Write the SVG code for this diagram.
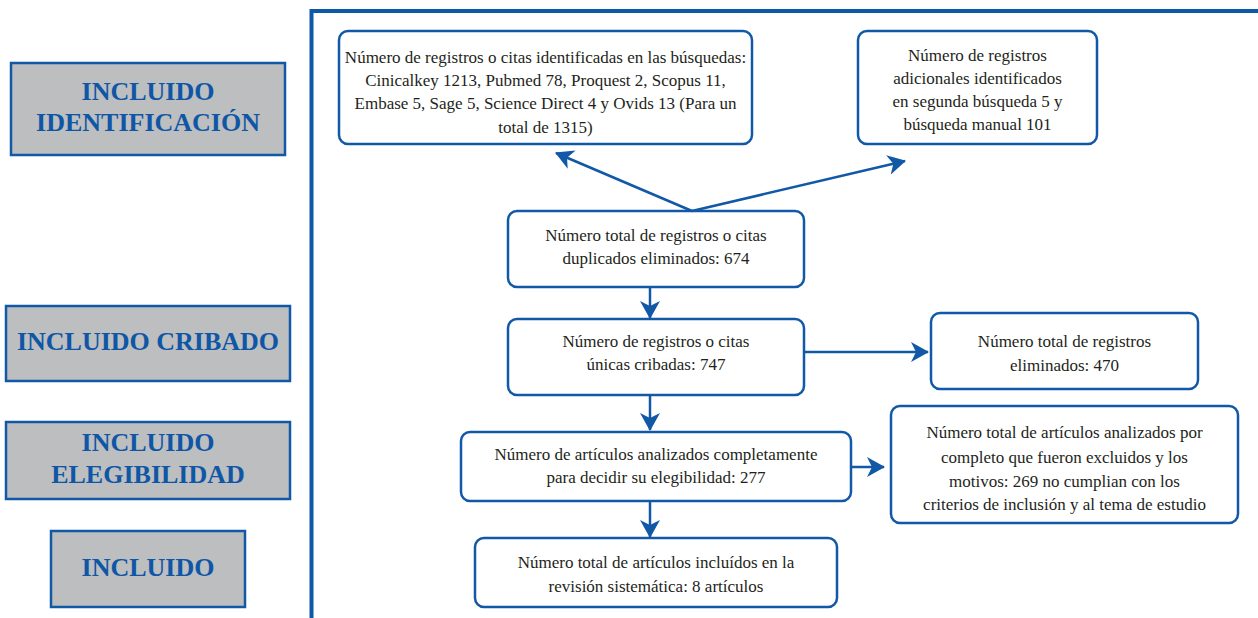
<svg xmlns="http://www.w3.org/2000/svg" width="1258" height="618" viewBox="0 0 1258 618">
<style>
.lab rect{fill:#BCBEC0;stroke:#1158A7;stroke-width:2.5}
.lab text{font-weight:bold;font-size:26px;fill:#0F56A6;text-anchor:middle}
.box rect{fill:#fff;stroke:#1158A7;stroke-width:2.5}
.box text{font-size:17px;fill:#231F20;text-anchor:middle}
.frame{stroke:#0E58A8;stroke-width:4;fill:none}
.conn line{stroke:#1158A7;stroke-width:2.5;fill:none}
</style>
<defs>
<marker id="ah" viewBox="0 0 18 20" refX="17" refY="10" markerWidth="18" markerHeight="20" markerUnits="userSpaceOnUse" orient="auto">
<path d="M0,0 L18,10 L0,20 L5,10 z" fill="#1158A7"/>
</marker>
</defs>
<rect width="1258" height="618" fill="#fff"/>
<path class="frame" d="M311.5,618 V11 H1258"/>

<g font-family="Liberation Serif, Times New Roman, DejaVu Serif, serif">
<g id="lab-identificacion" class="lab">
<rect x="11" y="63" width="274" height="92"/>
<text x="148" y="100">INCLUIDO</text>
<text x="148" y="131">IDENTIFICACIÓN</text>
</g>
<g id="lab-cribado" class="lab">
<rect x="6" y="306" width="284" height="75"/>
<text x="148" y="350">INCLUIDO CRIBADO</text>
</g>
<g id="lab-elegibilidad" class="lab">
<rect x="6" y="422" width="284" height="77"/>
<text x="148" y="451">INCLUIDO</text>
<text x="148" y="483">ELEGIBILIDAD</text>
</g>
<g id="lab-incluido" class="lab">
<rect x="51" y="531" width="194" height="76"/>
<text x="148" y="576">INCLUIDO</text>
</g>

<g id="n-busquedas" class="box">
<rect x="339" y="31" width="413" height="113" rx="9"/>
<text x="545.5" y="63">Número de registros o citas identificadas en las búsquedas:</text>
<text x="545.5" y="86">Cinicalkey 1213, Pubmed 78, Proquest 2, Scopus 11,</text>
<text x="545.5" y="109">Embase 5, Sage 5, Science Direct 4 y Ovids 13 (Para un</text>
<text x="545.5" y="133">total de 1315)</text>
</g>
<g id="n-adicionales" class="box">
<rect x="858" y="31" width="239" height="113" rx="9"/>
<text x="977.5" y="61">Número de registros</text>
<text x="977.5" y="84">adicionales identificados</text>
<text x="977.5" y="107">en segunda búsqueda 5 y</text>
<text x="977.5" y="130">búsqueda manual 101</text>
</g>
<g id="n-duplicados" class="box">
<rect x="508" y="211" width="296" height="76" rx="9"/>
<text x="656" y="241">Número total de registros o citas</text>
<text x="656" y="264">duplicados eliminados: 674</text>
</g>
<g id="n-cribadas" class="box">
<rect x="508" y="319" width="296" height="76" rx="9"/>
<text x="656" y="347">Número de registros o citas</text>
<text x="656" y="370">únicas cribadas: 747</text>
</g>
<g id="n-eliminados" class="box">
<rect x="931" y="313" width="267" height="76" rx="9"/>
<text x="1064.5" y="347">Número total de registros</text>
<text x="1064.5" y="371">eliminados: 470</text>
</g>
<g id="n-elegibilidad" class="box">
<rect x="461" y="432" width="390" height="69" rx="9"/>
<text x="656" y="460">Número de artículos analizados completamente</text>
<text x="656" y="483">para decidir su elegibilidad: 277</text>
</g>
<g id="n-excluidos" class="box">
<rect x="891" y="406" width="347" height="117" rx="9"/>
<text x="1064.5" y="438">Número total de artículos analizados por</text>
<text x="1064.5" y="463">completo que fueron excluidos y los</text>
<text x="1064.5" y="487">motivos: 269 no cumplian con los</text>
<text x="1064.5" y="510">criterios de inclusión y al tema de estudio</text>
</g>
<g id="n-incluidos" class="box">
<rect x="475" y="538" width="362" height="69" rx="9"/>
<text x="656" y="568">Número total de artículos incluídos en la</text>
<text x="656" y="592">revisión sistemática: 8 artículos</text>
</g>
</g>

<g id="connectors" class="conn">
<line x1="692" y1="211" x2="556" y2="153" marker-end="url(#ah)"/>
<line x1="692" y1="211" x2="905" y2="161" marker-end="url(#ah)"/>
<line x1="650" y1="287" x2="650" y2="318" marker-end="url(#ah)"/>
<line x1="650" y1="395" x2="650" y2="430" marker-end="url(#ah)"/>
<line x1="650" y1="501" x2="650" y2="537" marker-end="url(#ah)"/>
<line x1="804" y1="352" x2="928" y2="352" marker-end="url(#ah)"/>
<line x1="851" y1="467" x2="884" y2="467" marker-end="url(#ah)"/>
</g>
</svg>
